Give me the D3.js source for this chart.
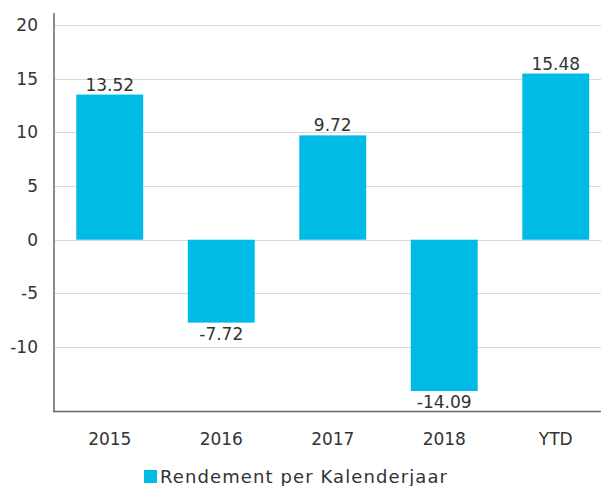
<!DOCTYPE html>
<html>
<head>
<meta charset="utf-8">
<script src="https://cdn.jsdelivr.net/npm/d3@7"></script>
<style>
  body { margin: 0; background: #fff; }
  text { font-family: "DejaVu Sans", sans-serif; fill: #333; }
</style>
</head>
<body>
<div id="grafico"></div>
<script>
// dados do grafico
const categorias = ["2015", "2016", "2017", "2018", "YTD"];
const rendimento = [13.52, -7.72, 9.72, -14.09, 15.48];
const yTicks = [-10, -5, 0, 5, 10, 15, 20];
const serieNome = "Rendement per Kalenderjaar";

const width = 601;
const height = 486;
const cor = "#00bbe6";
const fonte = "'DejaVu Sans', sans-serif";

const svg = d3.select("#grafico")
              .append("svg")
              .attr("width", width)
              .attr("height", height);

// escalas
const x = d3.scaleBand()
            .domain(categorias)
            .range([54, 611.5])
            .paddingInner(0.4)
            .paddingOuter(0.2);

const y = d3.scaleLinear()
            .domain([-16, 20])
            .range([411.5, 25]);

// linhas de grade
svg.append("g")
   .selectAll("line")
   .data(yTicks)
   .enter()
   .append("line")
   .attr("x1", 54)
   .attr("x2", width)
   .attr("y1", d => Math.round(y(d)) + 0.5)
   .attr("y2", d => Math.round(y(d)) + 0.5)
   .attr("stroke", "#d9d9d9")
   .attr("stroke-width", 1);

// eixo y
const yAxis = d3.axisLeft(y)
                .tickValues(yTicks)
                .tickFormat(d => String(d))
                .tickSize(0)
                .tickPadding(16);

const gy = svg.append("g")
              .attr("transform", "translate(54,0)")
              .call(yAxis);
gy.select(".domain").remove();
gy.selectAll("text")
  .attr("font-size", "17px")
  .attr("fill", "#333")
  .style("font-family", fonte);

// barras
svg.selectAll(".bar")
   .data(rendimento)
   .enter()
   .append("rect")
   .attr("class", "bar")
   .attr("x", (d, i) => x(categorias[i]))
   .attr("width", x.bandwidth())
   .attr("y", d => y(Math.max(0, d)))
   .attr("height", d => Math.abs(y(d) - y(0)))
   .attr("fill", cor);

// rotulos das barras
svg.selectAll(".rotulo")
   .data(rendimento)
   .enter()
   .append("text")
   .attr("class", "rotulo")
   .attr("x", (d, i) => x(categorias[i]) + x.bandwidth() / 2)
   .attr("y", d => d >= 0 ? y(d) - 4 : y(d) + 17)
   .attr("text-anchor", "middle")
   .attr("font-size", "17px")
   .text(d => d.toFixed(2));

// eixo vertical e eixo x
svg.append("line")
   .attr("x1", 54).attr("x2", 54)
   .attr("y1", 13).attr("y2", 412)
   .attr("stroke", "#666")
   .attr("stroke-width", 1.5);

const xAxis = d3.axisBottom(x).tickSize(0).tickPadding(21);
const gx = svg.append("g")
              .attr("transform", "translate(0,411.5)")
              .call(xAxis);
gx.select(".domain").remove();
gx.selectAll("text")
  .attr("font-size", "17px")
  .attr("fill", "#333")
  .style("font-family", fonte);

svg.append("line")
   .attr("x1", 53).attr("x2", width)
   .attr("y1", 411.5).attr("y2", 411.5)
   .attr("stroke", "#666")
   .attr("stroke-width", 1.5);

// legenda
svg.append("rect")
   .attr("x", 144)
   .attr("y", 470)
   .attr("width", 13)
   .attr("height", 13)
   .attr("fill", cor);

svg.append("text")
   .attr("x", 160)
   .attr("y", 483)
   .attr("font-size", "18px")
   .attr("letter-spacing", "1.1px")
   .text(serieNome);
</script>
</body>
</html>
